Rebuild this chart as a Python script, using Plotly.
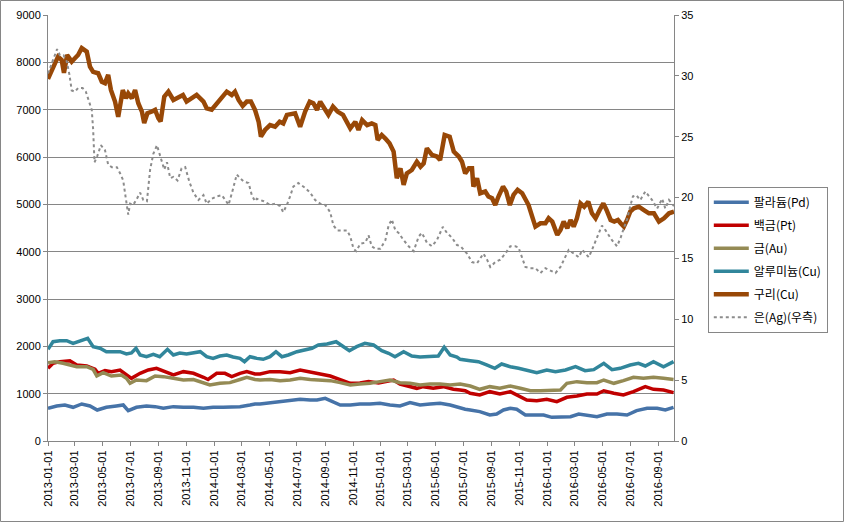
import plotly.graph_objects as go

# ---------------- data ----------------
PD_DATES = ["2013-01-01","2013-01-20","2013-02-07","2013-02-25","2013-03-16","2013-04-03","2013-04-19","2013-05-09","2013-05-31","2013-06-15","2013-06-26","2013-07-14","2013-08-05","2013-08-24","2013-09-11","2013-10-03","2013-10-25","2013-11-16","2013-12-08","2013-12-29","2014-01-20","2014-02-04","2014-02-26","2014-03-20","2014-03-31","2014-04-11","2014-05-03","2014-05-25","2014-06-16","2014-07-08","2014-07-30","2014-08-14","2014-09-01","2014-09-16","2014-10-04","2014-10-26","2014-11-16","2014-12-08","2014-12-30","2015-01-21","2015-02-12","2015-03-06","2015-03-28","2015-04-19","2015-05-11","2015-06-02","2015-06-24","2015-07-05","2015-07-16","2015-08-06","2015-08-28","2015-09-12","2015-09-27","2015-10-12","2015-10-26","2015-11-14","2015-12-02","2015-12-24","2016-01-11","2016-01-30","2016-02-21","2016-03-10","2016-03-28","2016-04-19","2016-05-11","2016-06-02","2016-06-24","2016-07-15","2016-08-07","2016-08-29","2016-09-16","2016-10-04"]
PD_VALUES = [691,740,761,712,782,740,655,712,740,761,641,712,740,726,691,726,712,712,691,712,712,712,726,761,782,782,810,831,852,881,866,866,902,831,761,761,782,782,796,761,740,810,761,782,796,761,691,670,655,620,549,571,655,691,670,549,549,549,500,500,514,571,549,514,571,571,549,641,691,691,655,712]

PT_DATES = ["2013-01-01","2013-01-12","2013-01-27","2013-02-18","2013-03-05","2013-03-27","2013-04-14","2013-04-21","2013-05-06","2013-05-20","2013-06-08","2013-06-22","2013-07-03","2013-07-22","2013-08-09","2013-08-27","2013-09-14","2013-10-03","2013-10-25","2013-11-16","2013-12-08","2013-12-18","2014-01-06","2014-01-24","2014-02-08","2014-02-26","2014-03-13","2014-03-31","2014-04-11","2014-05-03","2014-05-25","2014-06-16","2014-07-08","2014-07-30","2014-08-21","2014-09-12","2014-10-04","2014-10-26","2014-11-16","2014-12-05","2014-12-27","2015-01-14","2015-01-29","2015-02-12","2015-03-06","2015-03-21","2015-04-04","2015-04-26","2015-05-18","2015-06-09","2015-06-24","2015-07-05","2015-07-16","2015-08-06","2015-08-28","2015-09-19","2015-10-12","2015-11-03","2015-11-17","2015-12-09","2015-12-31","2016-01-22","2016-02-13","2016-03-06","2016-03-28","2016-04-19","2016-05-04","2016-05-26","2016-06-16","2016-07-08","2016-08-03","2016-08-21","2016-09-12","2016-10-04"]
PT_VALUES = [1536,1641,1676,1697,1606,1585,1515,1430,1486,1465,1500,1395,1324,1430,1500,1536,1465,1395,1465,1430,1346,1300,1430,1430,1360,1430,1465,1416,1416,1465,1465,1444,1500,1465,1416,1373,1289,1219,1226,1254,1226,1254,1289,1204,1148,1113,1148,1113,1148,1092,1078,1062,1008,972,1042,993,1042,936,866,852,881,831,923,951,993,993,1062,1008,972,1042,1148,1092,1078,1021]

AU_DATES = ["2013-01-01","2013-01-16","2013-02-03","2013-02-22","2013-03-05","2013-03-27","2013-04-10","2013-04-18","2013-05-02","2013-05-20","2013-06-11","2013-06-22","2013-06-30","2013-07-14","2013-08-05","2013-08-24","2013-09-11","2013-10-03","2013-10-25","2013-11-16","2013-12-08","2013-12-22","2014-01-13","2014-02-04","2014-02-26","2014-03-13","2014-03-31","2014-04-11","2014-05-03","2014-05-25","2014-06-16","2014-07-08","2014-07-30","2014-08-21","2014-09-12","2014-10-04","2014-10-26","2014-11-16","2014-12-08","2014-12-30","2015-01-21","2015-02-12","2015-03-06","2015-03-28","2015-04-19","2015-05-11","2015-06-02","2015-06-24","2015-07-16","2015-08-06","2015-08-28","2015-09-19","2015-10-12","2015-11-03","2015-11-25","2015-12-17","2016-01-08","2016-01-30","2016-02-13","2016-03-06","2016-03-28","2016-04-19","2016-05-04","2016-05-26","2016-06-16","2016-07-08","2016-07-30","2016-08-21","2016-09-12","2016-10-04"]
AU_VALUES = [1655,1676,1641,1606,1570,1570,1515,1373,1443,1373,1395,1324,1219,1289,1275,1373,1360,1324,1289,1300,1233,1183,1219,1233,1300,1346,1300,1289,1300,1275,1289,1324,1300,1289,1275,1233,1183,1204,1219,1254,1289,1233,1219,1183,1204,1204,1183,1204,1162,1092,1148,1113,1162,1113,1062,1062,1062,1078,1219,1254,1233,1233,1289,1219,1275,1346,1324,1346,1324,1300]

AL_DATES = ["2013-01-01","2013-01-12","2013-01-27","2013-02-11","2013-02-25","2013-03-12","2013-03-29","2013-04-10","2013-04-25","2013-05-09","2013-05-24","2013-06-08","2013-06-22","2013-07-03","2013-07-13","2013-07-22","2013-08-05","2013-08-20","2013-09-03","2013-09-20","2013-10-03","2013-10-17","2013-11-01","2013-11-16","2013-12-01","2013-12-15","2013-12-29","2014-01-13","2014-01-28","2014-02-11","2014-02-26","2014-03-08","2014-03-20","2014-04-04","2014-04-18","2014-05-03","2014-05-16","2014-05-29","2014-06-12","2014-07-01","2014-07-19","2014-08-03","2014-08-17","2014-09-05","2014-09-25","2014-10-11","2014-10-24","2014-11-09","2014-11-27","2014-12-16","2015-01-03","2015-01-18","2015-02-01","2015-02-20","2015-03-10","2015-03-28","2015-04-19","2015-05-07","2015-05-20","2015-06-02","2015-06-17","2015-06-24","2015-07-16","2015-08-03","2015-08-21","2015-09-08","2015-09-23","2015-10-12","2015-10-30","2015-11-17","2015-12-09","2015-12-31","2016-01-19","2016-02-10","2016-03-03","2016-03-24","2016-04-12","2016-05-04","2016-05-22","2016-06-09","2016-07-01","2016-07-19","2016-08-03","2016-08-21","2016-09-12","2016-10-04"]
AL_VALUES = [1937,2098,2120,2120,2064,2110,2170,1993,1959,1887,1887,1887,1838,1860,1959,1817,1781,1830,1781,1937,1817,1860,1838,1866,1887,1781,1746,1795,1817,1775,1746,1676,1781,1746,1726,1781,1887,1781,1817,1887,1923,1959,2028,2050,2098,1993,1908,1993,2064,2028,1908,1853,1781,1887,1796,1775,1781,1796,1980,1817,1775,1726,1697,1676,1606,1536,1627,1570,1536,1486,1443,1500,1465,1500,1570,1486,1507,1641,1507,1536,1606,1641,1585,1676,1570,1676]

CU_DATES = ["2013-01-01","2013-01-12","2013-01-23","2013-01-31","2013-02-05","2013-02-12","2013-02-22","2013-03-01","2013-03-08","2013-03-16","2013-03-27","2013-04-03","2013-04-10","2013-04-21","2013-04-29","2013-05-06","2013-05-13","2013-05-19","2013-05-28","2013-06-04","2013-06-08","2013-06-14","2013-06-21","2013-06-26","2013-07-04","2013-07-11","2013-07-18","2013-07-26","2013-07-31","2013-08-07","2013-08-17","2013-08-24","2013-08-31","2013-09-05","2013-09-13","2013-09-22","2013-10-03","2013-10-14","2013-10-24","2013-11-01","2013-11-12","2013-11-23","2013-12-08","2013-12-15","2013-12-26","2014-01-06","2014-01-17","2014-01-28","2014-02-08","2014-02-15","2014-02-23","2014-03-04","2014-03-13","2014-03-22","2014-03-31","2014-04-08","2014-04-13","2014-04-22","2014-05-03","2014-05-14","2014-05-24","2014-06-01","2014-06-09","2014-06-20","2014-06-27","2014-07-08","2014-07-19","2014-07-29","2014-08-06","2014-08-14","2014-08-21","2014-08-30","2014-09-08","2014-09-18","2014-09-28","2014-10-10","2014-10-19","2014-10-26","2014-11-06","2014-11-13","2014-11-21","2014-12-02","2014-12-12","2014-12-20","2014-12-25","2015-01-03","2015-01-11","2015-01-20","2015-01-29","2015-02-05","2015-02-13","2015-02-20","2015-02-27","2015-03-10","2015-03-21","2015-03-29","2015-04-05","2015-04-12","2015-04-23","2015-05-04","2015-05-11","2015-05-21","2015-06-01","2015-06-10","2015-06-21","2015-06-28","2015-07-05","2015-07-13","2015-07-20","2015-07-23","2015-07-31","2015-08-07","2015-08-18","2015-08-25","2015-09-02","2015-09-09","2015-09-16","2015-09-26","2015-10-03","2015-10-11","2015-10-19","2015-10-28","2015-11-07","2015-11-14","2015-11-21","2015-11-29","2015-12-06","2015-12-17","2015-12-28","2016-01-04","2016-01-12","2016-01-23","2016-01-30","2016-02-06","2016-02-14","2016-02-21","2016-02-28","2016-03-06","2016-03-14","2016-03-22","2016-03-31","2016-04-08","2016-04-16","2016-04-25","2016-05-03","2016-05-10","2016-05-19","2016-05-27","2016-06-04","2016-06-10","2016-06-17","2016-06-24","2016-07-01","2016-07-09","2016-07-20","2016-07-31","2016-08-11","2016-08-22","2016-09-02","2016-09-13","2016-09-24","2016-10-05"]
CU_VALUES = [7650,7910,8120,8050,7780,8155,8015,8085,8155,8300,8225,7910,7800,7770,7590,7560,7735,7415,7170,6850,7065,7415,7240,7345,7240,7415,7135,6960,6715,6925,6960,6995,6820,6750,7275,7380,7205,7275,7310,7170,7240,7310,7170,7030,7000,7135,7275,7380,7310,7380,7205,7080,7170,7170,6995,6745,6430,6570,6675,6640,6745,6710,6890,6925,6925,6640,6960,7170,7135,6995,7170,7030,6890,7065,6960,6890,6745,6605,6745,6570,6780,6675,6710,6675,6360,6465,6390,6290,6115,5550,5760,5410,5655,5725,5900,5795,5865,6185,6045,6010,5935,6465,6430,6115,6010,5900,5655,5760,5760,5375,5550,5235,5270,5165,5130,4985,5165,5375,5270,4985,5200,5305,5235,5090,4985,4740,4530,4600,4600,4705,4635,4355,4460,4635,4495,4670,4530,4705,5020,4950,5055,4810,4705,4880,5020,4880,4670,4635,4670,4600,4530,4670,4845,4915,4950,4880,4810,4810,4635,4705,4810,4845]

AG_DATES = ["2013-01-01","2013-01-12","2013-01-21","2013-01-27","2013-02-04","2013-02-11","2013-02-17","2013-02-22","2013-03-01","2013-03-08","2013-03-18","2013-03-25","2013-04-02","2013-04-07","2013-04-10","2013-04-13","2013-04-19","2013-04-27","2013-05-06","2013-05-13","2013-05-21","2013-06-01","2013-06-08","2013-06-15","2013-06-20","2013-06-26","2013-06-30","2013-07-07","2013-07-15","2013-07-22","2013-07-29","2013-08-06","2013-08-13","2013-08-20","2013-08-28","2013-09-04","2013-09-13","2013-09-19","2013-09-26","2013-10-03","2013-10-12","2013-10-21","2013-10-29","2013-11-07","2013-11-16","2013-11-27","2013-12-08","2013-12-15","2013-12-26","2014-01-06","2014-01-17","2014-01-25","2014-02-01","2014-02-10","2014-02-19","2014-02-26","2014-03-07","2014-03-17","2014-03-24","2014-03-31","2014-04-04","2014-04-19","2014-05-03","2014-05-14","2014-05-25","2014-06-01","2014-06-09","2014-06-16","2014-06-23","2014-07-04","2014-07-12","2014-07-19","2014-07-30","2014-08-10","2014-08-21","2014-09-01","2014-09-12","2014-09-19","2014-09-28","2014-10-08","2014-10-19","2014-10-26","2014-11-02","2014-11-08","2014-11-17","2014-11-28","2014-12-05","2014-12-12","2014-12-20","2014-12-31","2015-01-11","2015-01-18","2015-01-25","2015-02-02","2015-02-09","2015-02-20","2015-03-03","2015-03-14","2015-03-25","2015-04-01","2015-04-12","2015-04-23","2015-05-04","2015-05-17","2015-05-26","2015-06-06","2015-06-17","2015-06-25","2015-07-09","2015-07-20","2015-07-31","2015-08-14","2015-08-22","2015-08-29","2015-09-09","2015-09-20","2015-10-01","2015-10-12","2015-10-23","2015-10-30","2015-11-07","2015-11-14","2015-11-25","2015-12-06","2015-12-17","2015-12-28","2016-01-08","2016-01-19","2016-01-30","2016-02-10","2016-02-17","2016-02-28","2016-03-10","2016-03-18","2016-03-25","2016-04-01","2016-04-08","2016-04-16","2016-04-23","2016-04-30","2016-05-08","2016-05-15","2016-05-22","2016-06-02","2016-06-10","2016-06-17","2016-06-24","2016-07-01","2016-07-07","2016-07-14","2016-07-23","2016-08-03","2016-08-11","2016-08-18","2016-08-29","2016-09-09","2016-09-16","2016-09-24","2016-10-05"]
AG_VALUES = [30.2,31.3,32.2,31.7,31.7,31.2,30.1,28.8,28.7,29.0,29.0,28.7,27.7,27.2,25.6,22.9,23.4,24.3,23.9,22.7,22.5,22.5,22.0,21.4,20.1,18.6,19.5,19.4,19.9,20.4,19.8,19.7,22.3,23.6,24.3,23.5,22.3,22.9,21.6,21.7,21.4,22.4,22.5,21.3,20.4,19.8,20.2,19.5,19.9,20.1,20.2,19.8,19.4,20.6,21.9,21.6,21.3,21.2,20.2,19.7,19.9,19.7,19.4,19.5,19.3,18.8,19.4,20.1,20.9,21.2,21.0,20.8,20.4,19.8,19.5,19.4,18.8,17.7,17.3,17.3,17.3,16.8,15.8,15.6,16.2,16.3,16.9,16.0,15.8,15.8,16.5,17.7,18.2,17.3,17.1,16.5,16.0,15.6,16.8,17.1,16.3,16.0,16.5,17.6,17.1,16.7,16.1,16.0,15.4,14.7,14.6,15.4,14.9,14.3,14.7,14.9,15.4,16.0,16.0,15.9,15.0,14.3,14.2,14.2,13.8,14.2,14.0,13.8,14.3,15.1,15.7,15.4,15.1,15.7,15.4,15.1,15.7,16.4,17.1,17.7,17.3,16.9,16.5,16.0,16.7,17.5,18.2,19.3,20.1,20.2,19.8,20.5,20.1,19.8,19.1,19.9,19.1,19.8,19.3]

NAMES = ["팔라듐(Pd)", "백금(Pt)", "금(Au)", "알루미늄(Cu)", "구리(Cu)", "은(Ag)(우측)"]
COLORS = ["#4673A8", "#C00000", "#948A54", "#31869B", "#984807", "#8C8C8C"]

LEFT_TICKS = [0, 1000, 2000, 3000, 4000, 5000, 6000, 7000, 8000, 9000]
RIGHT_TICKS = [0, 5, 10, 15, 20, 25, 30, 35]

# ---------------- figure ----------------
fig = go.Figure()
left_series = [(PD_DATES, PD_VALUES), (PT_DATES, PT_VALUES), (AU_DATES, AU_VALUES),
               (AL_DATES, AL_VALUES), (CU_DATES, CU_VALUES)]
widths = [3.5, 3.5, 3.5, 3.5, 4.5]
for i, (d, v) in enumerate(left_series):
    fig.add_trace(go.Scatter(x=d, y=v, name=NAMES[i], mode="lines",
                             line=dict(color=COLORS[i], width=widths[i]),
                             legendgroup=f"g{i}", yaxis="y"))
fig.add_trace(go.Scatter(x=AG_DATES, y=AG_VALUES, name=NAMES[5], mode="lines",
                         line=dict(color=COLORS[5], width=2, dash="dot"),
                         legendgroup="g5", yaxis="y2"))

grid = "#868686"
tickfont = dict(family="Liberation Sans, Arial", size=11, color="#000000")
fig.update_layout(
    width=844, height=522,
    margin=dict(l=48, r=170, t=15, b=81, autoexpand=False),
    paper_bgcolor="white", plot_bgcolor="white",
    showlegend=True,
    legend=dict(x=1.054, y=0.597, xanchor="left", yanchor="top",
                bordercolor=grid, borderwidth=1, bgcolor="white",
                font=dict(family="Noto Sans CJK KR", size=12, color="#000000"),
                tracegroupgap=4, traceorder="grouped", itemwidth=35),
    xaxis=dict(type="date", range=["2013-01-01", "2016-10-05"],
               tick0="2013-01-01", dtick="M2", tickformat="%Y-%m-%d",
               tickangle=-90, tickfont=tickfont, automargin=False,
               showgrid=False, showline=True, linecolor=grid, linewidth=1,
               ticks="outside", ticklen=4, tickcolor=grid, zeroline=False),
    yaxis=dict(range=[0, 9000], tickvals=LEFT_TICKS, tickfont=tickfont,
               automargin=False,
               showgrid=True, gridcolor=grid, gridwidth=1,
               showline=True, linecolor=grid, linewidth=1,
               ticks="outside", ticklen=4, tickcolor=grid, zeroline=False),
    yaxis2=dict(range=[0, 35], tickvals=RIGHT_TICKS, tickfont=tickfont,
                automargin=False,
                overlaying="y", side="right", showgrid=False,
                showline=True, linecolor=grid, linewidth=1,
                ticks="outside", ticklen=4, tickcolor=grid, zeroline=False),
)

# outer chart-area border
fig.add_shape(type="rect", xref="paper", yref="paper",
              x0=(0.5 - 48) / 626, x1=(843.5 - 48) / 626,
              y0=(441 - 521.5) / 426, y1=(441 - 0.5) / 426,
              line=dict(color=grid, width=1), fillcolor="rgba(0,0,0,0)", layer="below")

fig.write_html("out.html")
